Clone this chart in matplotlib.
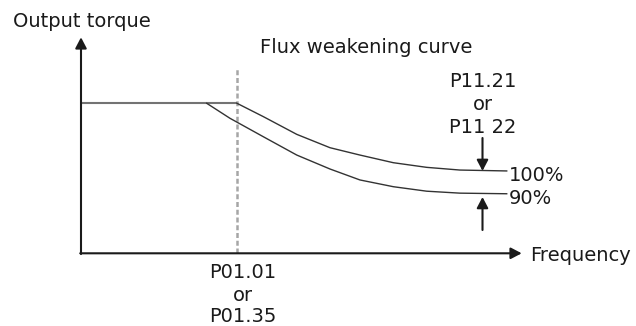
import matplotlib
matplotlib.use("Agg")
import matplotlib.pyplot as plt

# ---- data (frequency in multiples of base frequency, torque in p.u.) ----
plateau_freq = [0.0, 1.0]
plateau_torque = [1.0, 1.0]

upper_freq = [1.0, 1.169, 1.383, 1.596, 1.788, 2.002, 2.216, 2.429, 2.729]
upper_torque = [1.0, 0.911, 0.793, 0.704, 0.655, 0.604, 0.573, 0.555, 0.549]

lower_freq = [0.806, 0.955, 1.169, 1.383, 1.596, 1.788, 2.002, 2.216, 2.429, 2.729]
lower_torque = [1.0, 0.90, 0.777, 0.655, 0.562, 0.489, 0.444, 0.414, 0.401, 0.397]

base_freq = 1.0
y_label = "Output torque"
x_label = "Frequency"
title = "Flux weakening curve"
base_label = ["P01.01", "or", "P01.35"]
gain_label = ["P11.21", "or", "P11 22"]
upper_label = "100%"
lower_label = "90%"

W, H = 636, 326
X0, Y0, SX, SY = 81.0, 253.3, 156.0, 150.0  # pixel position of origin and scale


def dx(px):
    return (px - X0) / SX


def dy(py):
    return (Y0 - py) / SY


fig = plt.figure(figsize=(W / 100, H / 100), dpi=100)
ax = fig.add_axes([0, 0, 1, 1])
ax.set_xlim(dx(0), dx(W))
ax.set_ylim(dy(H), dy(0))
ax.axis("off")

ink = "#1a1a1a"
font = dict(family="DejaVu Sans", size=14, color=ink)

# dashed base-frequency marker
ax.plot([base_freq, base_freq], [0, dy(67)], color="#a6a6a6", lw=1.8,
        dashes=(2.0, 1.1), zorder=1)

# curves
ax.plot(plateau_freq, plateau_torque, color="#737373", lw=1.5, zorder=2,
        solid_capstyle="butt")
ax.plot(upper_freq, upper_torque, color="#333333", lw=1.0, zorder=3)
ax.plot(lower_freq, lower_torque, color="#333333", lw=1.0, zorder=3)

arrow = dict(arrowstyle="-|>,head_length=0.65,head_width=0.34", color=ink,
             lw=1.5, shrinkA=0, shrinkB=0, mutation_scale=10)

# axes arrows
ax.annotate("", xy=(0, dy(37.3)), xytext=(0, -0.005), arrowprops=arrow)
ax.annotate("", xy=(dx(521.7), 0), xytext=(-0.005, 0), arrowprops=arrow)

# gain arrows
ax_x = dx(482.5)
ax.annotate("", xy=(ax_x, upper_torque[-1]), xytext=(ax_x, dy(138)),
            arrowprops=arrow)
ax.annotate("", xy=(ax_x, dy(197)), xytext=(ax_x, dy(230)), arrowprops=arrow)


# texts
def t(px, py, s, ha="left"):
    ax.text(dx(px), dy(py), s, ha=ha, va="baseline", **font)


t(13, 26.7, y_label)
t(260, 52.7, title)
t(530, 261.3, x_label)
t(509, 180.7, upper_label)
t(509, 204, lower_label)
for s, yb in zip(gain_label, [87.3, 110, 132.7]):
    t(483, yb, s, ha="center")
for s, yb in zip(base_label, [278.0, 301.0, 322.5]):
    t(242.5, yb, s, ha="center")

fig.savefig("out.png", dpi=100)
